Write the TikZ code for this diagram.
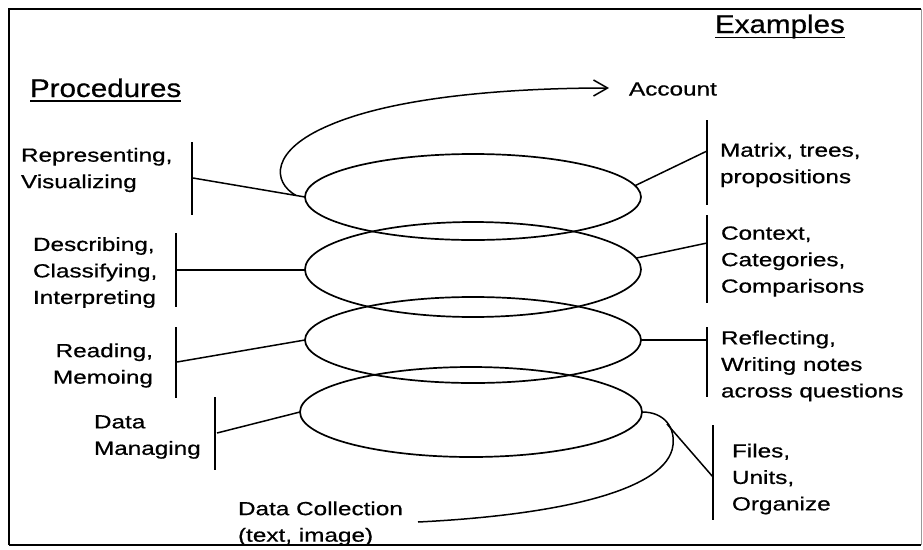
\documentclass[tikz,border=0pt]{standalone}
\usepackage{fontspec}
\setmainfont{Liberation Sans}
\newfontfamily\txtfont[FakeStretch=1.28,FakeBold=0.6]{Liberation Sans}
\newfontfamily\headfont[FakeStretch=1.16,FakeBold=0.6]{Liberation Sans}
\usetikzlibrary{shapes.geometric,arrows.meta,calc}
\begin{document}
\begin{tikzpicture}[x=1pt,y=-1pt,
  lbl/.style={inner sep=0pt,outer sep=0pt,font=\txtfont\fontsize{19}{26.5}\selectfont,text=black},
  head/.style={inner sep=0pt,outer sep=0pt,font=\headfont\fontsize{25.5}{30}\selectfont,text=black},
  ring/.style={draw,ellipse,inner sep=0pt,outer sep=0pt,line width=1.7pt},
  conn/.style={line width=1.5pt},
  barline/.style={line width=1.5pt},
  frameline/.style={line width=2pt}]
\useasboundingbox (0,0) rectangle (923,549);
% frame
\coordinate (fa) at (9,545);
\coordinate (fb) at (9,9);
\coordinate (fc) at (921,9);
\coordinate (fd) at (921,545);
\draw[frameline] (fa) -- (fb) -- (fc);
\draw[frameline] (fa) -- (fd);
\draw[line width=1pt,black!40] (fc) -- (fd);
% headings
\node[head,anchor=base west] (ex) at (715,33) {Examples};
\draw[line width=1.8pt] ([yshift=-4.5pt]ex.base west) -- ([yshift=-4.5pt]ex.base east);
\node[head,anchor=base west] (pr) at (30,97) {Procedures};
\draw[line width=1.8pt] ([yshift=-4pt]pr.base west) -- ([yshift=-4pt]pr.base east);
\node[lbl,anchor=base west] (acc) at (629,95.5) {Account};
% ellipses
\node[ring,minimum width=336pt,minimum height=86pt] (e1) at (473,197) {};
\node[ring,minimum width=336pt,minimum height=95pt] (e2) at (473,269.5) {};
\node[ring,minimum width=336pt,minimum height=86pt] (e3) at (473,340) {};
\node[ring,minimum width=342pt,minimum height=90pt] (e4) at (471,412) {};
% left labels
\node[lbl,anchor=west,align=left] (rep) at (21,170) {Representing,\\Visualizing};
\node[lbl,anchor=west,align=left] (des) at (33,272.5) {Describing,\\Classifying,\\Interpreting};
\node[lbl,anchor=east,align=right] (rea) at (153,365.5) {Reading,\\Memoing};
\node[lbl,anchor=west,align=left] (dm) at (94,437) {Data\\Managing};
\node[lbl,anchor=west,align=left] (dc) at (238,523.5) {Data Collection\\(text, image)};
% right labels
\node[lbl,anchor=west,align=left] (mat) at (720,165) {Matrix, trees,\\propositions};
\node[lbl,anchor=west,align=left] (con) at (721,261.5) {Context,\\Categories,\\Comparisons};
\node[lbl,anchor=west,align=left] (ref) at (721,366) {Reflecting,\\Writing notes\\across questions};
\node[lbl,anchor=west,align=left] (fil) at (732,479) {Files,\\Units,\\Organize};
% left bars
\coordinate (lb1t) at (192,142); \coordinate (lb1b) at (192,215); \coordinate (lb1c) at (193,178);
\coordinate (lb2t) at (176,233); \coordinate (lb2b) at (176,307); \coordinate (lb2c) at (176,270);
\coordinate (lb3t) at (176,327); \coordinate (lb3b) at (176,398); \coordinate (lb3c) at (177,362);
\coordinate (lb4t) at (215,397); \coordinate (lb4b) at (215,470); \coordinate (lb4c) at (217,433);
\draw[barline] (lb1t) -- (lb1b);
\draw[barline] (lb2t) -- (lb2b);
\draw[barline] (lb3t) -- (lb3b);
\draw[barline] (lb4t) -- (lb4b);
% right bars
\coordinate (rb1t) at (707,120); \coordinate (rb1b) at (707,205); \coordinate (rb1c) at (707,151);
\coordinate (rb2t) at (707,215); \coordinate (rb2b) at (707,303); \coordinate (rb2c) at (707,243);
\coordinate (rb3t) at (707,327); \coordinate (rb3b) at (707,397);
\coordinate (rb4t) at (713,425); \coordinate (rb4b) at (713,520); \coordinate (rb4c) at (713,477);
\draw[barline] (rb1t) -- (rb1b);
\draw[barline] (rb2t) -- (rb2b);
\draw[barline] (rb3t) -- (rb3b);
\draw[barline] (rb4t) -- (rb4b);
% connectors left
\draw[conn] (lb1c) -- (e1.west);
\draw[conn] (lb2c) -- (lb2c -| e2.west);
\draw[conn] (lb3c) -- (e3.west);
\draw[conn] (lb4c) -- (e4.west);
% connectors right
\draw[conn] (e1.4) -- (rb1c);
\draw[conn] (e2.4) -- (rb2c);
\draw[conn] (e3.east) -- (e3.east -| rb3t);
% spiral: top arrow to Account
\coordinate (rj) at ($(lb1c)!0.92!(e1.west)$);
\coordinate (acctip) at (609,88);
\draw[conn,-{Straight Barb[length=14pt,width=16pt,line width=1.5pt]}] (rj) .. controls (272,182) and (270,150) .. (330,125)
  .. controls (400,95) and (520,88) .. (acctip);
% spiral: bottom tail to Data Collection
\coordinate (dcend) at (418,522);
\draw[conn] (e4.east) .. controls (665,412) and (675,428) .. (673,445)
  .. controls (668,490) and (560,515) .. (dcend);
\coordinate (fj) at (667,424);
\draw[conn] (fj) -- (rb4c);
\end{tikzpicture}
\end{document}
